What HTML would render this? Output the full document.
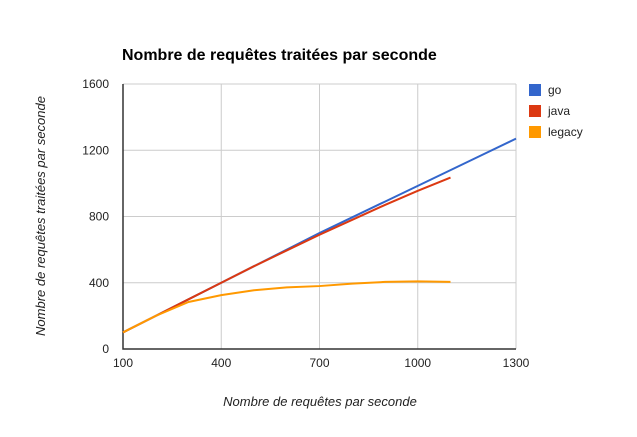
<!DOCTYPE html>
<html><head><meta charset="utf-8"><style>
body{margin:0;background:#fff;font-family:"Liberation Sans",Arial,sans-serif}
svg text{font-family:"Liberation Sans",Arial,sans-serif}
</style></head><body>
<svg id="c" width="637" height="432">
<text x="122" y="60" font-size="16" font-weight="bold" fill="#000">Nombre de requêtes traitées par seconde</text>
<g id="grid"></g><g id="lines"></g><g id="legend"></g>
<text x="320" y="406" font-size="13" font-style="italic" text-anchor="middle" fill="#222">Nombre de requêtes par seconde</text>
<text transform="translate(45,216) rotate(-90)" font-size="13" font-style="italic" text-anchor="middle" fill="#222">Nombre de requêtes traitées par seconde</text>
</svg>
<script>
const xTicks=[100,400,700,1000,1300];
const yTicks=[0,400,800,1200,1600];
const goX=[100,200,300,400,500,600,700,800,900,1000,1100,1200,1300];
const goY=[100,200,300,400,500,600,700,795,890,985,1080,1175,1270];
const javaX=[100,200,300,400,500,600,700,800,900,1000,1100];
const javaY=[100,200,300,400,500,595,690,780,870,955,1035];
const legacyX=[100,200,300,400,500,600,700,800,900,1000,1100];
const legacyY=[100,200,284,325,355,372,380,395,405,408,405];
const names=["go","java","legacy"],colors=["#3366cc","#dc3912","#ff9900"];
const X0=123,X1=516,Y0=349,Y1=84;
const sx=v=>X0+(v-100)/1200*(X1-X0), sy=v=>Y0-v/1600*(Y0-Y1);
const NS="http://www.w3.org/2000/svg";
function mk(t,a,p){const e=document.createElementNS(NS,t);for(const k in a)e.setAttribute(k,a[k]);p.appendChild(e);return e;}
const g=document.getElementById('grid');
xTicks.forEach(v=>{const l=mk('line',{x1:sx(v),x2:sx(v),y1:Y1,y2:Y0,stroke:'#ccc'},g);

const t=mk('text',{x:sx(v),y:Y0+18,'font-size':12,'text-anchor':'middle',fill:'#222'},g);t.textContent=v;
});
yTicks.forEach(v=>{const l=mk('line',{x1:X0,x2:X1,y1:sy(v),y2:sy(v),stroke:'#ccc'},g);

const t=mk('text',{x:X0-14,y:sy(v)+4,'font-size':12,'text-anchor':'end',fill:'#222'},g);t.textContent=v;
});
const ax=mk('path',{d:`M${X0},${Y1}V${Y0}H${X1}`,stroke:'#333','stroke-width':1.5,fill:'none'},g);

const L=document.getElementById('lines');
[[goX,goY],[javaX,javaY],[legacyX,legacyY]].forEach((s,i)=>{
const p=mk('polyline',{points:s[0].map((x,j)=>sx(x)+','+sy(s[1][j])).join(' '),fill:'none',stroke:colors[i],'stroke-width':2},L);
});
const lg=document.getElementById('legend');
names.forEach((n,i)=>{const y=84+i*21;
const r=mk('rect',{x:529,y:y,width:12,height:12,fill:colors[i]},lg);

const t=mk('text',{x:548,y:y+10,'font-size':12,fill:'#222'},lg);t.textContent=n;
});
</script></body></html>
